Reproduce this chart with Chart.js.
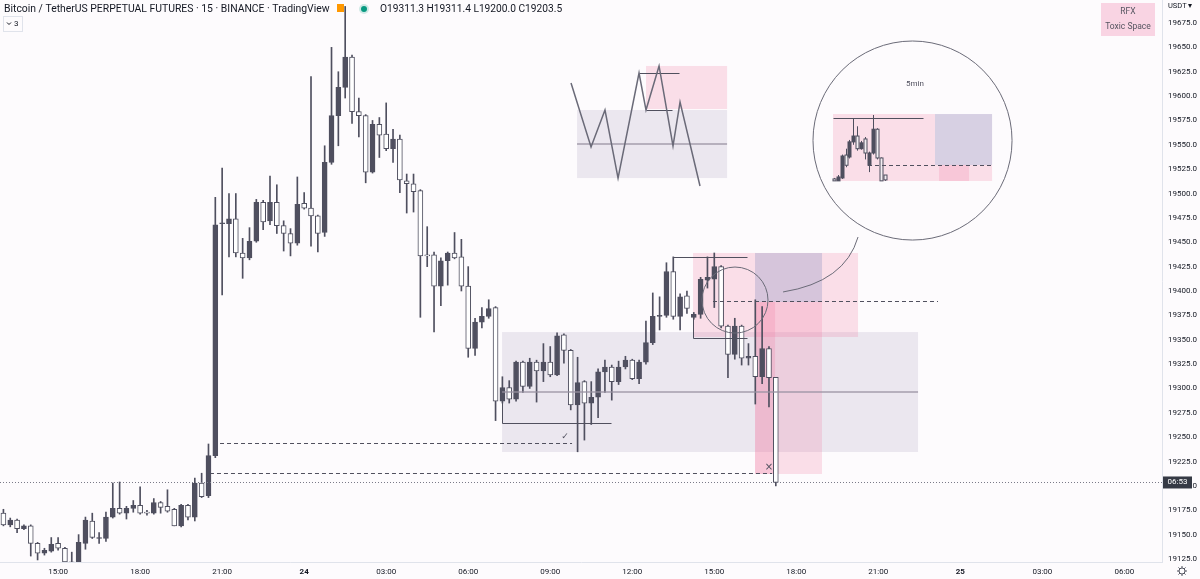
<!DOCTYPE html>
<html>
<head>
<meta charset="utf-8">
<script src="https://cdn.jsdelivr.net/npm/chart.js@4.4.1/dist/chart.umd.min.js"></script>
<style>
  html, body { margin: 0; padding: 0; background: #fdfbfd; }
  #wrap { position: relative; width: 1200px; height: 579px; }
</style>
</head>
<body>
<div id="wrap"><canvas id="chart" width="1200" height="579"></canvas></div>
<script>
// BTCUSDT perp, 15m candles from 23rd 13:00
const opens = [19172,19160,19165,19156,19159,19141,19131,19133,19141,19136,19122,19118,19141,19164,19146,19146,19168,19177,19172,19177,19180,19173,19172,19183,19179,19176,19159,19180,19168,19203,19190,19231,19469,19469,19474,19439,19434,19451,19491,19472,19491,19467,19459,19449,19490,19485,19477,19460,19532,19580,19609,19640,19584,19580,19522,19571,19561,19546,19556,19513,19510,19503,19437,19437,19405,19431,19439,19435,19405,19341,19368,19374,19383,19287,19301,19289,19327,19302,19327,19318,19327,19314,19355,19339,19283,19307,19285,19291,19317,19322,19307,19322,19329,19310,19327,19347,19374,19375,19420,19374,19395,19373,19376,19411,19412,19425,19364,19335,19364,19331,19333,19312,19341,19311.3];
const highs = [19176,19167,19166,19160,19160,19142,19136,19147,19147,19137,19132,19150,19168,19172,19152,19173,19203,19204,19179,19185,19199,19175,19187,19184,19196,19177,19181,19181,19208,19213,19243,19496,19526,19500,19500,19454,19465,19494,19493,19518,19509,19472,19464,19517,19501,19620,19478,19549,19650,19625,19692,19642,19598,19581,19575,19578,19593,19566,19560,19520,19520,19504,19466,19440,19434,19440,19460,19453,19425,19372,19383,19391,19384,19312,19308,19328,19328,19331,19329,19346,19343,19357,19356,19340,19332,19308,19307,19320,19329,19324,19328,19333,19330,19329,19369,19398,19394,19429,19435,19397,19400,19378,19414,19435,19439,19426,19365,19372,19365,19346,19391,19384,19343,19311.4];
const lows = [19159,19158,19152,19155,19128,19124,19129,19132,19134,19115,19112,19115,19135,19146,19141,19143,19167,19171,19166,19173,19171,19170,19171,19172,19173,19159,19158,19165,19164,19188,19188,19229,19396,19435,19435,19413,19432,19450,19463,19468,19459,19441,19436,19447,19484,19446,19440,19456,19530,19549,19598,19572,19558,19511,19521,19537,19544,19532,19501,19480,19481,19373,19425,19358,19385,19406,19433,19400,19332,19334,19362,19372,19267,19285,19285,19287,19296,19300,19286,19307,19312,19313,19326,19278,19235,19247,19263,19270,19296,19288,19304,19320,19309,19305,19325,19345,19360,19373,19371,19360,19377,19371,19372,19403,19383,19362,19311,19330,19324,19324,19284,19305,19281,19200.0];
const closes = [19160,19165,19156,19159,19141,19131,19134,19140,19136,19122,19118,19142,19165,19147,19146,19168,19177,19172,19177,19180,19172,19172,19183,19178,19174,19159,19180,19168,19203,19189,19231,19468,19470,19474,19439,19434,19451,19491,19471,19491,19467,19459,19449,19489,19485,19477,19459,19532,19580,19609,19640,19584,19580,19522,19571,19560,19546,19556,19514,19510,19502,19436,19436,19405,19431,19439,19434,19405,19341,19368,19374,19382,19287,19301,19289,19327,19302,19327,19318,19327,19314,19354,19339,19283,19306,19285,19291,19317,19322,19307,19322,19329,19310,19327,19347,19374,19374,19420,19374,19394,19382,19376,19412,19414,19425,19364,19335,19364,19331,19333,19312,19341,19311,19203.5];

// 5min candles shown inside the zoomed circle
const insetO = [19515,19513,19516,19539.5,19537.5,19553,19559,19546,19556,19529,19541.6,19566,19536.5,19519];
const insetH = [19516,19519,19540,19546,19555,19577.5,19569,19554,19558,19543,19580.6,19567,19537,19519];
const insetL = [19513,19513,19515,19527,19536,19550,19544,19545,19535,19522,19540,19535,19513,19513];
const insetC = [19513,19517,19538.5,19529,19553,19559,19546,19552,19541.6,19541.6,19566,19536.5,19513,19514];

const yTicks = [19125,19150,19175,19200,19225,19250,19275,19300,19325,19350,19375,19400,19425,19450,19475,19500,19525,19550,19575,19600,19625,19650,19675];

// one category per 15 min slot, 13:00 on the 23rd onward
const slotCount = 170;
const times = [];
for (let i = 0; i < slotCount; i++) {
  const m = 13 * 60 + i * 15;
  times.push(String(Math.floor(m / 60) % 24).padStart(2, '0') + ':' + String(m % 60).padStart(2, '0'));
}
function tickText(i) {
  const m = 13 * 60 + i * 15;
  if (m % 180 !== 0) return '';
  if (m % 1440 === 0) return String(23 + m / 1440);
  return times[i];
}

const DARK = '#4f4f5f';
const up = closes.map((c, i) => c >= opens[i]);
const wickData = highs.map((h, i) => [lows[i], h]);
const bodyData = opens.map((o, i) => [o, closes[i]]);

const PINK = 'rgba(242,120,160,0.22)';
const LAV = 'rgba(190,180,210,0.6)';
const GRAY = 'rgba(205,200,215,0.38)';

const drawings = {
  zones: [
    [83.92, 105.87, 19585.7, 19515.9, GRAY],
    [94.01, 105.87, 19630.9, 19586.7, PINK],
    [72.95, 133.81, 19357.9, 19234.8, GRAY],
    [100.89, 125.03, 19439.0, 19352.8, PINK],
    [109.96, 119.76, 19439.0, 19388.7, LAV],
    [109.96, 119.76, 19388.7, 19212.2, PINK],
    [109.96, 112.89, 19388.7, 19212.2, PINK],
    [121.37, 136.29, 19581.6, 19512.9, PINK],
    [136.29, 144.64, 19581.6, 19529.3, LAV],
    [136.29, 144.64, 19529.3, 19512.9, PINK],
    [136.88, 141.27, 19529.3, 19512.9, PINK]
  ],
  midlines: [[72.95, 133.81, 19296.3], [83.92, 105.87, 19550.8]],
  solids: [
    [[97.96, 19434.9], [108.79, 19434.9]],
    [[100.89, 19375.3], [100.89, 19351.7], [108.79, 19351.7]],
    [[72.95, 19287.1], [72.95, 19264.5], [88.89, 19264.5]],
    [[92.99, 19623.7], [98.84, 19623.7]],
    [[94.01, 19585.7], [97.82, 19585.7]],
    [[121.37, 19577.5], [134.54, 19577.5]]
  ],
  dashed: [
    [31.69, 83.19, 19244.0],
    [30.22, 112.45, 19213.2],
    [103.81, 136.73, 19389.7],
    [126.49, 144.64, 19529.3]
  ],
  zigzag: [[83.04,19613.4],[85.97,19547.7],[88.01,19585.7],[89.92,19515.9],[92.99,19623.7],[94.01,19585.7],[95.92,19630.9],[97.96,19548.8],[98.99,19593.9],[101.91,19507.7]],
  circles: [[107.03, 19390.7, 4.83], [133.0, 19554.4, 14.56]],
  curve: [[114.06, 19399.0], [123.13, 19409.2], [125.03, 19455.4]],
  marks: [['✓', 82.16, 19250.2, 9], ['×', 112.01, 19219.4, 10], ['5min', 133.37, 19612.4, 8]]
};

const drawPlugin = {
  id: 'drawings',
  beforeDraw(chart) {
    const c = chart.ctx;
    c.save();
    c.fillStyle = '#fdfbfd';
    c.fillRect(0, 0, chart.width, chart.height);
    c.restore();
  },
  beforeDatasetsDraw(chart) {
    const c = chart.ctx, a = chart.chartArea;
    const X = v => chart.scales.x.getPixelForValue(v), Y = v => chart.scales.y.getPixelForValue(v);
    c.save();
    c.beginPath(); c.rect(a.left, a.top, a.right - a.left, a.bottom - a.top); c.clip();
    drawings.zones.forEach(z => {
      c.fillStyle = z[4];
      c.fillRect(X(z[0]), Y(z[2]), X(z[1]) - X(z[0]), Y(z[3]) - Y(z[2]));
    });
    // mini 5m candles
    insetO.forEach((o, k) => {
      const x = Math.round(X(121.5 + k * 0.57)) + 0.5;
      c.strokeStyle = DARK; c.lineWidth = 1;
      c.beginPath(); c.moveTo(x, Y(insetH[k])); c.lineTo(x, Y(insetL[k])); c.stroke();
      const t = Y(Math.max(o, insetC[k])), b = Y(Math.min(o, insetC[k]));
      c.fillStyle = insetC[k] >= o ? DARK : '#f3eef2';
      c.fillRect(x - 1.5, t, 3, Math.max(1, b - t));
      c.strokeRect(x - 1.5, t, 3, Math.max(1, b - t));
    });
    c.restore();
  },
  afterDatasetsDraw(chart) {
    const c = chart.ctx, a = chart.chartArea;
    const X = v => chart.scales.x.getPixelForValue(v), Y = v => chart.scales.y.getPixelForValue(v);
    c.save();
    c.beginPath(); c.rect(a.left, a.top, a.right - a.left, a.bottom - a.top); c.clip();

    c.strokeStyle = 'rgba(150,145,160,0.85)'; c.lineWidth = 1.5;
    drawings.midlines.forEach(m => {
      c.beginPath(); c.moveTo(X(m[0]), Y(m[2])); c.lineTo(X(m[1]), Y(m[2])); c.stroke();
    });

    c.strokeStyle = '#50505e'; c.lineWidth = 1;
    drawings.solids.forEach(p => {
      c.beginPath();
      p.forEach((q, i) => { const x = Math.round(X(q[0])) + 0.5, y = Math.round(Y(q[1])) + 0.5; i ? c.lineTo(x, y) : c.moveTo(x, y); });
      c.stroke();
    });

    c.setLineDash([4, 3]);
    drawings.dashed.forEach(d => {
      const y = Math.round(Y(d[2])) + 0.5;
      c.beginPath(); c.moveTo(X(d[0]), y); c.lineTo(X(d[1]), y); c.stroke();
    });
    c.setLineDash([]);

    c.strokeStyle = '#6a6a78'; c.lineWidth = 1.5;
    c.beginPath();
    drawings.zigzag.forEach((q, i) => i ? c.lineTo(X(q[0]), Y(q[1])) : c.moveTo(X(q[0]), Y(q[1])));
    c.stroke();

    c.strokeStyle = '#6b6b78'; c.lineWidth = 1;
    drawings.circles.forEach(o => {
      const r = X(o[0] + o[2]) - X(o[0]);
      c.beginPath(); c.arc(X(o[0]), Y(o[1]), r, 0, Math.PI * 2); c.stroke();
    });
    const cv = drawings.curve;
    c.beginPath();
    c.moveTo(X(cv[0][0]), Y(cv[0][1]));
    c.quadraticCurveTo(X(cv[1][0]), Y(cv[1][1]), X(cv[2][0]), Y(cv[2][1]));
    c.stroke();

    c.fillStyle = '#50505e'; c.textAlign = 'center'; c.textBaseline = 'middle';
    drawings.marks.forEach(m => {
      c.font = m[3] + 'px "DejaVu Sans", Roboto';
      if (m[0] === '5min') c.font = '8px Roboto';
      c.fillText(m[0], X(m[1]), Y(m[2]));
    });

    // last price line
    const ly = Math.round(Y(closes[closes.length - 1])) + 0.5;
    c.strokeStyle = '#7a7a88'; c.setLineDash([1, 2]);
    c.beginPath(); c.moveTo(a.left, ly); c.lineTo(a.right, ly); c.stroke();
    c.restore();
  },
  afterDraw(chart) {
    const c = chart.ctx, a = chart.chartArea;
    const Y = v => chart.scales.y.getPixelForValue(v);
    const n = closes.length - 1;
    c.save();
    // header
    c.textBaseline = 'middle'; c.textAlign = 'left';
    c.fillStyle = '#131722';
    c.font = '10.4px Roboto';
    c.fillText('Bitcoin / TetherUS PERPETUAL FUTURES · 15 · BINANCE · TradingView', 4, 9);
    c.fillStyle = '#ff9800';
    c.fillRect(337, 4, 7, 8);
    c.fillStyle = 'rgba(8,153,129,0.18)';
    c.beginPath(); c.arc(364, 9, 5, 0, Math.PI * 2); c.fill();
    c.fillStyle = '#089981';
    c.beginPath(); c.arc(364, 9, 3, 0, Math.PI * 2); c.fill();
    c.fillStyle = '#131722'; c.font = '10.2px Roboto';
    c.fillText('O' + opens[n].toFixed(1) + ' H' + highs[n].toFixed(1) + ' L' + lows[n].toFixed(1) + ' C' + closes[n].toFixed(1), 380, 9);
    // collapse button
    c.strokeStyle = '#e0e3eb'; c.lineWidth = 1;
    c.strokeRect(3.5, 16.5, 19, 15);
    c.strokeStyle = '#131722';
    c.beginPath(); c.moveTo(7, 22.5); c.lineTo(9, 24.5); c.lineTo(11, 22.5); c.stroke();
    c.fillStyle = '#131722'; c.font = '8px Roboto';
    c.fillText('3', 14, 24);
    // RFX tag
    c.fillStyle = 'rgba(242,150,185,0.38)';
    c.fillRect(1101, 3, 54, 33);
    c.fillStyle = '#555560'; c.textAlign = 'center'; c.font = '8.5px Roboto';
    c.fillText('RFX', 1128, 12);
    c.fillText('Toxic Space', 1128, 27);
    // countdown label
    const ly = Y(closes[n]);
    c.fillStyle = '#363a45';
    c.fillRect(a.right + 1, ly - 6, 29, 12);
    c.fillStyle = '#ffffff'; c.font = '8px Roboto';
    c.fillText('06:53', a.right + 15.5, ly);
    // axis caption and gear
    c.fillStyle = '#131722'; c.textAlign = 'left'; c.font = '7.5px Roboto';
    c.fillText('USDT ▾', 1168, 6);
    c.strokeStyle = '#50535e'; c.lineWidth = 1;
    c.beginPath(); c.arc(1182, 571, 3, 0, Math.PI * 2); c.stroke();
    for (let k = 0; k < 8; k++) {
      const t = k * Math.PI / 4;
      c.beginPath(); c.moveTo(1182 + Math.cos(t) * 3, 571 + Math.sin(t) * 3); c.lineTo(1182 + Math.cos(t) * 5, 571 + Math.sin(t) * 5); c.stroke();
    }
    c.restore();
  }
};

new Chart(document.getElementById('chart'), {
  type: 'bar',
  data: {
    labels: times,
    datasets: [{
      label: 'wick',
      data: wickData,
      backgroundColor: DARK,
      barThickness: 1,
      grouped: false,
      order: 2
    }, {
      label: 'body',
      data: bodyData,
      backgroundColor: ctx => up[ctx.dataIndex] ? DARK : '#ffffff',
      borderColor: DARK,
      borderWidth: 1,
      borderSkipped: false,
      minBarLength: 1,
      barThickness: 5,
      grouped: false,
      order: 1
    }]
  },
  options: {
    responsive: false,
    animation: false,
    layout: { padding: 0 },
    plugins: { legend: { display: false }, tooltip: { enabled: false } },
    scales: {
      x: {
        offset: true,
        grid: { display: false, drawTicks: false },
        border: { display: true, color: '#e0e3eb' },
        ticks: {
          autoSkip: false, maxRotation: 0, padding: 5, color: '#131722',
          font: ctx => ({ family: 'Roboto', size: 8, weight: /^\d+$/.test(tickText(ctx.index)) ? 'bold' : 'normal' }),
          callback: (v, i) => tickText(i)
        },
        afterFit: s => { s.height = 17; s.paddingLeft = 0; s.paddingRight = 0; }
      },
      y: {
        position: 'right',
        min: 19121.9,
        max: 19698.6,
        grid: { display: false, drawTicks: false },
        border: { display: true, color: '#e0e3eb' },
        ticks: { padding: 6, color: '#131722', font: { family: 'Roboto', size: 8 }, callback: v => v.toFixed(1) },
        afterBuildTicks: s => { s.ticks = yTicks.map(v => ({ value: v })); },
        afterFit: s => { s.width = 38; s.paddingTop = 0; s.paddingBottom = 0; }
      }
    }
  },
  plugins: [drawPlugin]
});
</script>
</body>
</html>
